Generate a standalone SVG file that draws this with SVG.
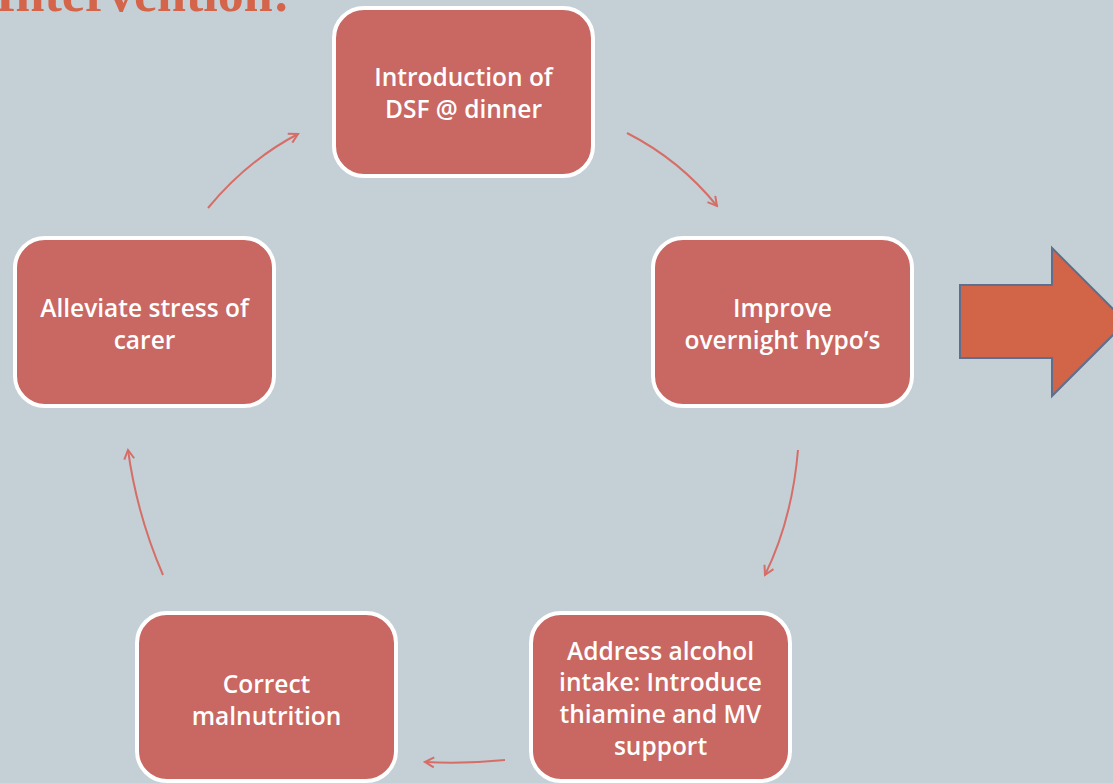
<svg xmlns="http://www.w3.org/2000/svg" width="1113" height="783" viewBox="0 0 1113 783">
<defs>
<style>
.box{fill:#C96762;stroke:#ffffff;stroke-width:4}
.lbl{font-family:"Open Sans","Liberation Sans",sans-serif;font-size:24.5px;font-weight:600;fill:#ffffff;text-anchor:middle}
.con{fill:none;stroke:#D66E68;stroke-width:2}
</style>
<marker id="ah" viewBox="0 0 12 12" refX="10" refY="6" markerWidth="12" markerHeight="12" markerUnits="userSpaceOnUse" orient="auto">
<path d="M1,1 L10,6 L1,11" fill="none" stroke="#D66E68" stroke-width="2"/>
</marker>
</defs>
<rect width="1113" height="783" fill="#C5D0D6"/>
<text x="290" y="11" font-family="Liberation Serif,serif" font-weight="bold" font-size="52" fill="#D4644A" text-anchor="end">Intervention:</text>
<g id="n1"><rect class="box" x="334" y="8" width="259" height="168" rx="30"/>
<text class="lbl" x="463.5" y="86">Introduction of</text><text class="lbl" x="463.5" y="118">DSF @ dinner</text></g>
<g id="n2"><rect class="box" x="653" y="238" width="259" height="168" rx="30"/>
<text class="lbl" x="782.5" y="317">Improve</text><text class="lbl" x="782.5" y="349">overnight hypo’s</text></g>
<g id="n3"><rect class="box" x="531" y="613" width="259" height="168" rx="30"/>
<text class="lbl" x="660.5" y="660">Address alcohol</text><text class="lbl" x="660.5" y="691">intake: Introduce</text><text class="lbl" x="660.5" y="723">thiamine and MV</text><text class="lbl" x="660.5" y="755">support</text></g>
<g id="n4"><rect class="box" x="137" y="613" width="259" height="168" rx="30"/>
<text class="lbl" x="266.5" y="693">Correct</text><text class="lbl" x="266.5" y="725">malnutrition</text></g>
<g id="n5"><rect class="box" x="15" y="238" width="259" height="168" rx="30"/>
<text class="lbl" x="144.5" y="317">Alleviate stress of</text><text class="lbl" x="144.5" y="349">carer</text></g>
<g id="connectors">
<path class="con" marker-end="url(#ah)" d="M627,133 Q680,160 717,206"/>
<path class="con" marker-end="url(#ah)" d="M798,450 Q792,520 765,575"/>
<path class="con" marker-end="url(#ah)" d="M505,760 Q465,764 425,762"/>
<path class="con" marker-end="url(#ah)" d="M163,575 Q137,515 128,450"/>
<path class="con" marker-end="url(#ah)" d="M208,208 Q248,160 298,134"/>
</g>
<g id="bigarrow"><path d="M960,285 L1052,285 L1052,248 L1126,322 L1052,396 L1052,358 L960,358 Z" fill="#D26548" stroke="#5F6E8C" stroke-width="2"/></g>
</svg>
